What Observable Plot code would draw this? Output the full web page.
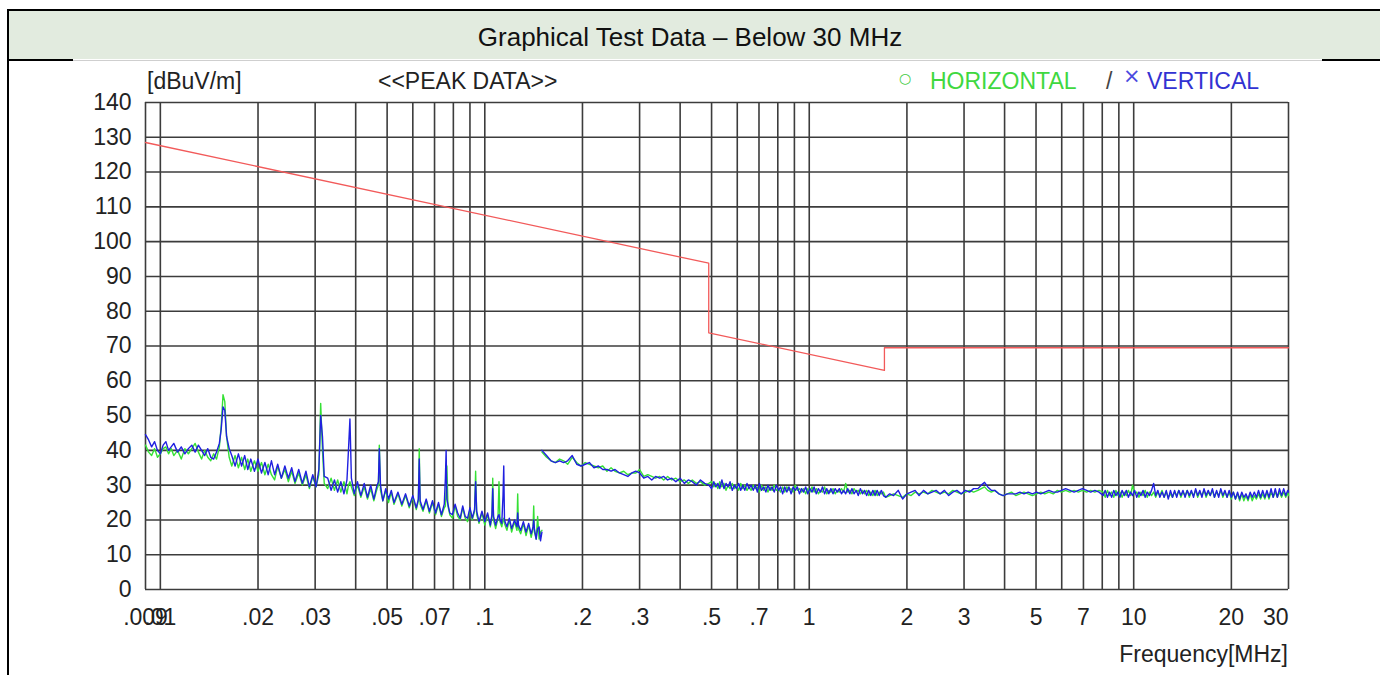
<!DOCTYPE html>
<html><head><meta charset="utf-8">
<script src="https://cdn.jsdelivr.net/npm/d3@7"></script>
<script src="https://cdn.jsdelivr.net/npm/@observablehq/plot@0.6"></script>
<style>
body{margin:0;background:#fff;font-family:"Liberation Sans",Arial,sans-serif;}
#page{position:relative;width:1380px;height:675px;overflow:hidden;background:#fff;}
.abs{position:absolute;white-space:nowrap;}
.t23{font-size:23px;line-height:23px;}
#chart{position:absolute;left:0;top:62px;}
</style></head><body><div id="page">
<div class="abs" style="left:9px;top:11px;width:1380px;height:48px;background:#e2ebdf"></div>
<div class="abs" style="left:7px;top:9px;width:1380px;height:2px;background:#000"></div>
<div class="abs" style="left:7px;top:9px;width:2px;height:670px;background:#000"></div>
<div class="abs" style="left:7px;top:59px;width:66px;height:2px;background:#000"></div>
<div class="abs" style="left:73px;top:60px;width:1249px;height:1px;background:#cfcfcf"></div>
<div class="abs" style="left:1322px;top:59px;width:60px;height:2px;background:#000"></div>
<div class="abs" style="left:0;top:24px;width:1380px;text-align:center;font-size:26px;line-height:26px;color:#111">Graphical Test Data – Below 30 MHz</div>
<div id="chart"></div>
<div class="abs t23" style="left:147px;top:70px;color:#222">[dBuV/m]</div>
<div class="abs t23" style="left:378px;top:70px;color:#222">&lt;&lt;PEAK DATA&gt;&gt;</div>
<div class="abs" style="left:899px;top:71px;font-size:14px;line-height:14px;color:#44cc44;font-family:'DejaVu Sans'">○</div>
<div class="abs t23" style="left:930px;top:70px;color:#3fd83f">HORIZONTAL</div>
<div class="abs t23" style="left:1106px;top:70px;color:#444">/</div>
<div class="abs" style="left:1123px;top:66px;font-size:21px;line-height:21px;color:#4a4ae0;font-family:'DejaVu Sans'">×</div>
<div class="abs t23" style="left:1147px;top:70px;color:#3232d2">VERTICAL</div>
<div class="abs t23" style="right:92px;top:643px;color:#222">Frequency[MHz]</div>
</div>
<script>
// ---- tick values / labels ----
const xTicks = [0.009, 0.01, 0.02, 0.03, 0.05, 0.07, 0.1, 0.2, 0.3, 0.5, 0.7, 1, 2, 3, 5, 7, 10, 20, 30];
const xTickLabels = [".009", ".01", ".02", ".03", ".05", ".07", ".1", ".2", ".3", ".5", ".7", "1", "2", "3", "5", "7", "10", "20", "30"];
const xGrid = [0.009, 0.01, 0.02, 0.03, 0.04, 0.05, 0.06, 0.07, 0.08, 0.09, 0.1, 0.2, 0.3, 0.4, 0.5, 0.6, 0.7, 0.8, 0.9, 1, 2, 3, 4, 5, 6, 7, 8, 9, 10, 20, 30];
const yTicks = [0, 10, 20, 30, 40, 50, 60, 70, 80, 90, 100, 110, 120, 130, 140];

// ---- limit line (dBuV/m) ----
const limitFreq = [0.009, 0.49, 0.49, 1.705, 1.705, 30];
const limitLevel = [128.5, 93.8, 73.8, 63.0, 69.5, 69.5];

// ---- low band scan: [MHz, horizontal, vertical] ----
const lowBand = [
 [0.0090,41.5,44.5],[0.0092,39.5,43.0],[0.0094,38.5,41.0],[0.0096,40.5,42.5],[0.0098,38.0,40.0],
 [0.0100,39.0,39.0],[0.0102,40.5,41.5],[0.0104,41.0,42.5],[0.0106,39.0,40.0],[0.0108,40.5,41.0],
 [0.0110,38.5,42.0],[0.0113,40.0,39.5],[0.0116,37.5,41.0],[0.0119,40.5,39.0],[0.0122,39.0,40.5],
 [0.0125,40.5,41.5],[0.0128,42.0,39.5],[0.0131,39.5,41.5],[0.0134,37.5,40.0],[0.0137,40.0,38.5],
 [0.0140,38.0,40.5],[0.0143,37.0,38.0],[0.0146,39.0,37.5],[0.0149,37.5,39.5],[0.0152,41.0,42.0],
 [0.0154,47.0,46.0],[0.0156,56.0,52.5],[0.0158,54.0,51.5],[0.0160,44.0,44.0],
 [0.0163,38.0,40.5],[0.0166,35.5,38.5],[0.0170,38.5,35.5],[0.0174,35.0,39.0],[0.0178,38.0,35.5],
 [0.0182,34.5,38.5],[0.0186,37.5,34.5],[0.0190,34.0,37.5],[0.0195,37.0,34.0],[0.0200,34.0,37.5],
 [0.0205,36.5,33.5],[0.0210,33.0,36.5],[0.0215,36.0,33.0],[0.0220,33.0,37.0],[0.0225,31.5,33.0],
 [0.0230,35.5,36.0],[0.0236,32.0,32.0],[0.0242,34.5,35.5],[0.0248,31.0,32.0],[0.0254,34.0,35.0],
 [0.0260,30.5,31.0],[0.0267,33.5,34.5],[0.0274,30.0,30.5],[0.0281,33.0,34.0],[0.0288,29.0,29.5],
 [0.0295,32.5,33.0],[0.0302,29.5,29.5],[0.0308,33.0,34.5],[0.0312,53.5,50.0],[0.0316,40.0,44.0],
 [0.0320,30.5,32.5],[0.0328,29.0,32.0],[0.0336,32.0,28.5],[0.0344,28.5,31.5],[0.0352,31.5,28.0],
 [0.0360,28.0,31.0],[0.0368,31.0,27.5],[0.0376,27.5,31.5],[0.0380,30.0,40.0],[0.0384,31.0,49.0],
 [0.0388,29.5,32.0],[0.0396,27.0,27.5],[0.0405,30.0,31.0],[0.0415,26.5,27.0],[0.0425,29.5,30.5],
 [0.0435,26.0,26.5],[0.0445,29.0,30.0],[0.0455,25.5,26.0],[0.0464,28.5,29.5],[0.0470,30.0,31.0],
 [0.0473,41.5,40.5],[0.0477,28.5,30.0],[0.0485,25.5,25.5],[0.0495,28.5,29.0],[0.0505,25.0,26.0],
 [0.0515,28.0,28.5],[0.0525,24.5,25.0],[0.0540,27.5,28.0],[0.0555,24.0,24.5],[0.0570,27.0,27.5],
 [0.0585,23.5,24.0],[0.0600,26.5,27.0],[0.0615,23.0,23.5],[0.0624,25.5,26.0],[0.0628,40.5,37.5],
 [0.0632,24.5,25.5],[0.0645,22.5,23.0],[0.0660,25.5,26.0],[0.0675,22.0,22.5],[0.0690,25.0,25.5],
 [0.0705,21.5,22.0],[0.0720,24.5,25.0],[0.0735,21.0,21.5],[0.0750,23.5,24.5],[0.0756,24.0,32.0],
 [0.0760,28.0,40.0],[0.0764,35.5,26.0],[0.0770,24.0,24.5],[0.0780,21.5,22.0],[0.0795,20.5,21.5],
 [0.0810,24.0,24.5],[0.0825,21.0,22.0],[0.0840,20.0,20.5],[0.0855,23.5,24.0],[0.0870,20.5,21.0],
 [0.0885,19.5,20.5],[0.0900,23.0,23.5],[0.0915,20.0,20.5],[0.0930,22.5,23.0],[0.0937,34.0,31.0],
 [0.0944,21.5,22.5],[0.0960,19.0,19.5],[0.0980,22.0,22.5],[0.1000,18.5,19.5],[0.1020,21.5,22.0],
 [0.1040,18.0,18.5],[0.1052,21.0,21.5],[0.1058,32.0,29.0],[0.1064,20.0,21.0],[0.1080,17.5,18.5],
 [0.1098,20.5,21.0],[0.1106,31.0,21.5],[0.1114,19.5,20.0],[0.1128,18.0,19.0],[0.1138,20.0,27.0],
 [0.1144,20.5,35.5],[0.1150,19.0,20.0],[0.1170,17.0,18.0],[0.1190,20.0,20.5],[0.1210,16.5,17.5],
 [0.1235,19.5,20.0],[0.1256,17.0,18.0],[0.1263,27.5,22.0],[0.1270,17.5,18.5],[0.1290,16.0,17.0],
 [0.1315,19.0,19.5],[0.1340,15.5,16.5],[0.1365,18.5,19.0],[0.1390,15.0,16.0],[0.1408,17.5,18.0],
 [0.1415,24.0,20.0],[0.1422,16.5,17.5],[0.1440,14.5,14.5],[0.1455,21.0,17.5],[0.1470,14.5,18.0],
 [0.1485,16.5,14.0],[0.1500,17.0,16.5]
];

// ---- high band scan: [MHz, horizontal, vertical] ----
const highBand = [
 [0.150,39.5,40.0],[0.155,38.0,38.5],[0.160,37.0,37.0],[0.165,36.5,36.5],[0.170,37.5,37.0],
 [0.175,37.0,36.5],[0.180,36.0,37.0],[0.186,38.0,38.5],[0.192,36.5,36.0],[0.198,35.5,35.5],
 [0.204,36.5,36.0],[0.210,36.0,36.5],[0.217,35.5,35.0],[0.224,35.0,35.5],[0.231,35.5,34.5],
 [0.238,34.0,34.5],[0.245,35.0,34.0],[0.252,34.0,34.5],[0.260,33.5,33.5],[0.268,34.0,33.0],
 [0.276,33.0,32.5],[0.284,33.5,33.5],[0.292,33.5,34.0],[0.300,34.5,33.5],[0.309,32.5,32.0],
 [0.318,33.0,32.5],[0.327,32.5,31.5],[0.336,32.0,32.5],[0.346,32.5,32.0],[0.356,31.5,32.5],
 [0.366,32.5,31.5],[0.377,31.5,32.0],[0.388,32.0,31.0],[0.400,31.0,32.0],[0.412,31.5,30.5],
 [0.424,30.5,31.5],[0.436,31.5,31.0],[0.449,30.5,30.0],[0.462,31.0,31.5],[0.476,30.0,30.5],
 [0.490,30.5,30.0],
 [0.500,31.0,29.0],[0.508,29.5,31.0],[0.515,30.5,29.5],[0.523,29.0,30.5],[0.530,31.0,29.0],
 [0.538,29.5,31.5],[0.546,30.5,29.0],[0.554,28.5,30.5],[0.562,30.0,29.5],[0.570,29.0,31.0],
 [0.579,30.5,28.5],[0.588,29.0,30.0],[0.597,30.0,29.0],[0.606,28.5,30.5],[0.615,30.5,28.5],
 [0.624,29.0,30.0],[0.633,30.0,28.5],[0.643,28.5,30.5],[0.652,29.5,29.0],[0.662,28.5,30.0],
 [0.672,30.0,28.5],[0.682,29.0,30.0],[0.692,29.5,28.0],[0.702,28.0,30.5],[0.713,30.0,28.5],
 [0.724,28.5,29.5],[0.735,29.5,28.0],[0.746,28.0,30.0],[0.757,29.5,28.5],[0.768,28.5,29.5],
 [0.780,30.0,28.0],[0.792,28.5,30.0],[0.804,29.0,28.5],[0.816,28.0,29.5],[0.828,29.5,27.5],
 [0.840,28.0,29.5],[0.853,29.5,28.0],[0.866,28.5,29.5],[0.879,29.0,27.5],[0.892,28.0,29.5],
 [0.905,30.0,28.5],[0.919,28.5,29.5],[0.933,29.0,27.5],[0.947,28.0,29.0],[0.961,29.0,28.0],
 [0.975,27.5,29.5],[0.990,29.0,27.5],[1.005,28.0,29.0],[1.020,29.5,28.0],[1.035,28.0,29.5],
 [1.051,29.0,27.5],[1.067,27.5,29.0],[1.083,28.5,28.0],[1.099,28.0,29.5],[1.115,29.5,27.5],
 [1.132,27.5,29.0],[1.149,28.5,27.5],[1.166,28.0,29.0],[1.184,29.0,27.5],[1.202,27.5,29.0],
 [1.220,28.5,28.0],[1.238,28.0,29.0],[1.257,29.0,27.5],[1.276,28.0,28.5],[1.295,30.5,27.5],
 [1.314,28.0,29.0],[1.334,28.5,27.5],[1.354,27.5,29.0],[1.374,29.0,27.5],[1.395,28.0,28.5],
 [1.416,28.5,27.0],[1.437,27.5,29.0],[1.459,28.5,27.5],[1.481,27.5,28.5],[1.503,28.5,27.0],
 [1.525,27.0,28.5],[1.548,28.0,27.0],[1.571,27.0,28.5],[1.595,28.5,27.0],[1.619,27.0,28.5],
 [1.643,28.0,27.0],[1.668,27.5,28.5],[1.693,28.0,27.0],
 [1.72,26.5,26.5],[1.77,27.0,27.5],[1.82,27.5,27.0],[1.88,27.0,28.5],[1.94,26.5,26.0],
 [2.00,27.5,27.5],[2.06,27.0,28.0],[2.12,28.0,28.5],[2.18,27.5,27.0],[2.25,28.0,28.5],
 [2.32,27.5,27.5],[2.39,28.5,28.0],[2.46,28.0,28.5],[2.53,27.5,27.5],[2.61,28.0,28.5],
 [2.69,27.5,27.0],[2.77,28.5,28.0],[2.85,28.0,28.5],[2.94,27.5,27.5],[3.03,28.0,28.5],
 [3.12,28.5,28.0],[3.21,28.0,29.0],[3.31,28.5,29.0],[3.39,29.0,30.0],[3.47,29.5,30.8],
 [3.55,28.5,29.5],[3.64,28.0,28.5],[3.73,28.5,28.5],[3.84,27.5,27.5],[3.96,27.0,27.0],
 [4.08,27.5,27.5],[4.20,28.0,27.5],[4.33,27.0,27.5],[4.46,27.5,28.0],[4.59,28.0,27.5],
 [4.73,27.5,28.0],[4.87,27.0,27.5],[5.02,27.5,28.0],[5.17,28.0,27.5],[5.32,27.5,28.0],
 [5.48,28.0,28.5],[5.65,27.5,28.0],[5.82,28.5,28.0],[5.99,28.0,28.5],[6.17,28.5,29.0],
 [6.36,28.0,28.5],[6.55,28.5,28.0],[6.75,28.0,28.5],[6.95,28.5,29.0],[7.16,28.0,28.5],
 [7.37,28.5,28.0],[7.59,28.0,28.5],[7.82,28.5,28.0],
 [8.05,28.0,27.0],[8.17,26.5,28.5],[8.30,28.5,26.5],[8.42,27.0,28.0],[8.55,28.0,26.5],
 [8.68,26.5,28.5],[8.81,28.5,27.0],[8.94,27.0,28.0],[9.07,28.0,26.5],[9.21,26.5,28.5],
 [9.35,28.0,27.0],[9.49,27.0,28.5],[9.63,28.5,26.5],[9.78,27.0,28.0],[9.92,30.0,27.0],
 [10.07,27.5,28.5],[10.22,28.0,26.5],[10.38,26.5,28.0],[10.53,28.0,27.0],[10.69,27.0,28.5],
 [10.85,28.5,26.5],[11.01,26.5,28.0],[11.18,28.0,27.0],[11.35,27.0,28.5],[11.52,28.0,30.5],
 [11.69,26.5,27.0],[11.87,28.0,28.5],[12.04,27.0,26.5],[12.23,28.5,28.0],[12.41,26.5,26.5],
 [12.60,28.0,28.5],[12.78,26.5,26.0],[12.98,27.5,28.5],[13.17,26.5,26.5],[13.37,28.0,28.5],
 [13.57,27.0,26.5],[13.77,28.5,28.5],[13.98,26.5,27.0],[14.19,28.0,28.5],[14.40,27.0,26.5],
 [14.62,28.5,28.5],[14.84,26.5,27.0],[15.06,28.0,28.5],[15.29,27.0,26.5],[15.52,28.5,29.0],
 [15.75,26.5,27.0],[15.99,28.0,28.5],[16.23,27.0,26.5],[16.47,28.5,29.0],[16.72,26.5,27.0],
 [16.97,28.0,28.5],[17.22,27.0,27.0],[17.48,28.5,29.0],[17.74,26.5,26.5],[18.01,28.0,28.5],
 [18.28,27.0,26.5],[18.55,28.5,29.0],[18.83,26.5,27.0],[19.11,28.0,28.5],[19.40,26.5,26.5],
 [19.69,28.0,28.5],[19.99,26.0,26.5],[20.29,28.0,28.0],[20.59,26.0,26.0],[20.90,27.5,28.0],
 [21.21,25.5,26.0],[21.53,27.5,28.0],[21.85,25.5,26.5],[22.18,27.0,27.5],[22.51,25.5,26.0],
 [22.85,27.5,28.0],[23.19,25.5,26.5],[23.54,27.0,28.0],[23.89,26.0,26.5],[24.25,27.5,28.5],
 [24.61,26.0,26.5],[24.98,27.5,28.5],[25.36,26.0,26.5],[25.74,28.0,28.5],[26.12,26.0,26.5],
 [26.51,28.0,29.0],[26.91,26.5,26.5],[27.31,28.0,29.0],[27.72,26.5,26.5],[28.14,28.0,29.0],
 [28.56,26.5,27.0],[28.99,28.0,29.0],[29.42,26.5,27.0],[29.86,28.0,28.5],[30.00,27.0,28.0]
];

// ---- build tables ----
const scan = [];
for (const [f, h, v] of lowBand) scan.push({band: "low", f, h, v});
for (const [f, h, v] of highBand) scan.push({band: "high", f, h, v});
const limit = limitFreq.map((f, i) => ({f, level: limitLevel[i]}));
const xLabelRows = xTicks.map((t, i) => ({f: t, label: xTickLabels[i]}));
const xMax = xTicks[xTicks.length - 1];

const GRID = "#3c3c3c";
const chart = Plot.plot({
  width: 1380, height: 613,
  marginLeft: 145, marginRight: 92, marginTop: 40, marginBottom: 86,
  x: {type: "log", domain: [0.009, 30], axis: null},
  y: {domain: [0, 140], axis: null},
  style: {fontFamily: "'Liberation Sans', Arial, sans-serif", fontSize: "23px", color: "#222", background: "transparent", overflow: "visible"},
  marks: [
    Plot.ruleX(xGrid, {stroke: GRID, strokeWidth: 1.6}),
    Plot.ruleY(yTicks, {stroke: GRID, strokeWidth: 1.6}),
    Plot.axisY({ticks: yTicks, tickSize: 0, tickPadding: 14, label: null, fontSize: 23}),
    Plot.text(xLabelRows, {filter: d => d.f < xMax, x: "f", text: "label", frameAnchor: "bottom", lineAnchor: "top", dy: 19, fontSize: 23, fill: "#222"}),
    Plot.text(xLabelRows, {filter: d => d.f === xMax, x: "f", text: "label", frameAnchor: "bottom", lineAnchor: "top", textAnchor: "end", dy: 19, fontSize: 23, fill: "#222"}),
    Plot.line(scan, {x: "f", y: "h", z: "band", stroke: "#35e035", strokeWidth: 1.4}),
    Plot.line(scan, {x: "f", y: "v", z: "band", stroke: "#2020e0", strokeWidth: 1.4}),
    Plot.line(limit, {x: "f", y: "level", stroke: "#f25a5a", strokeWidth: 1.3})
  ]
});
document.getElementById("chart").appendChild(chart);
</script>
</body></html>
